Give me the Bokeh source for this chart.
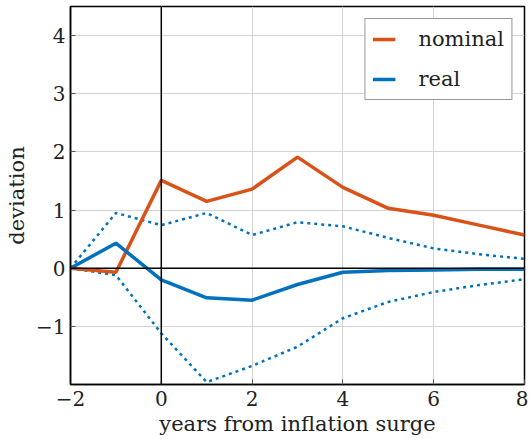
from bokeh.plotting import figure
from bokeh.models import Range1d, Span, Legend, LegendItem, FixedTicker
from bokeh.embed import file_html
from bokeh.resources import INLINE

years = [-2, -1, 0, 1, 2, 3, 4, 5, 6, 7, 8]
nominal = [0.0, -0.07, 1.51, 1.15, 1.36, 1.91, 1.39, 1.03, 0.91, 0.74, 0.57]
real = [0.0, 0.43, -0.20, -0.51, -0.55, -0.28, -0.07, -0.04, -0.03, -0.02, -0.02]
real_upper = [0.0, 0.95, 0.74, 0.95, 0.57, 0.79, 0.72, 0.52, 0.34, 0.24, 0.16]
real_lower = [0.0, -0.12, -1.12, -1.96, -1.68, -1.35, -0.86, -0.58, -0.41, -0.29, -0.19]

x_ticks = [-2, 0, 2, 4, 6, 8]
y_ticks = [-1, 0, 1, 2, 3, 4]
x_title = "years from inflation surge"
y_title = "deviation"

ORANGE = "#D95319"
BLUE = "#0072BD"
FONT = "DejaVu Serif"

p = figure(width=528, height=440, output_backend="svg", toolbar_location=None,
           x_range=Range1d(-2, 8), y_range=Range1d(-2, 4.5),
           min_border_left=70, min_border_right=4, min_border_top=6, min_border_bottom=56)

p.outline_line_color = "black"
p.outline_line_width = 1.5
p.outline_line_alpha = 1.0

for ax in (p.xaxis[0], p.yaxis[0]):
    ax.axis_line_color = "black"
    ax.axis_line_width = 1.5
    ax.major_tick_in = 5
    ax.major_tick_out = 0
    ax.minor_tick_in = 0
    ax.minor_tick_out = 0
    ax.major_tick_line_color = "#555555"
    ax.major_label_text_font = FONT
    ax.major_label_text_font_size = "20px"
    ax.major_label_text_color = "#222222"
    ax.axis_label_text_font = FONT
    ax.axis_label_text_font_size = "21px"
    ax.axis_label_text_font_style = "normal"
    ax.axis_label_text_color = "#222222"

p.xaxis[0].ticker = FixedTicker(ticks=x_ticks)
p.yaxis[0].ticker = FixedTicker(ticks=y_ticks)
p.xaxis[0].major_label_overrides = {t: (("\u2212" + str(-t)) if t < 0 else str(t)) for t in x_ticks}
p.yaxis[0].major_label_overrides = {t: (("\u2212" + str(-t)) if t < 0 else str(t)) for t in y_ticks}
p.xaxis[0].axis_label = x_title
p.yaxis[0].axis_label = y_title
p.xaxis[0].major_label_standoff = 6
p.yaxis[0].major_label_standoff = 5
p.xaxis[0].axis_label_standoff = 3
p.yaxis[0].axis_label_standoff = 4

p.xgrid[0].ticker = FixedTicker(ticks=x_ticks)
p.ygrid[0].ticker = FixedTicker(ticks=y_ticks)
p.grid.grid_line_color = "#d4d4d4"
p.grid.grid_line_width = 1

p.add_layout(Span(location=0, dimension="height", line_color="black", line_width=1.5))
p.add_layout(Span(location=0, dimension="width", line_color="black", line_width=1.5))

p.line(years, real_upper, line_color=BLUE, line_width=2.5, line_dash="3 4")
p.line(years, real_lower, line_color=BLUE, line_width=2.5, line_dash="3 4")
r_nom = p.line(years, nominal, line_color=ORANGE, line_width=3.5)
r_real = p.line(years, real, line_color=BLUE, line_width=3.5)

legend = Legend(items=[LegendItem(label="nominal", renderers=[r_nom]),
                       LegendItem(label="real", renderers=[r_real])],
                location="top_right")
legend.label_text_font = FONT
legend.label_text_font_size = "21px"
legend.label_text_color = "#222222"
legend.glyph_width = 23
legend.glyph_height = 26
legend.label_height = 26
legend.label_standoff = 23
legend.spacing = 14
legend.padding = 7
legend.margin = 12
legend.border_line_color = "#333333"
legend.border_line_width = 1
legend.background_fill_color = "white"
legend.background_fill_alpha = 1.0
p.add_layout(legend)

open("out.html", "w").write(file_html(p, INLINE))
